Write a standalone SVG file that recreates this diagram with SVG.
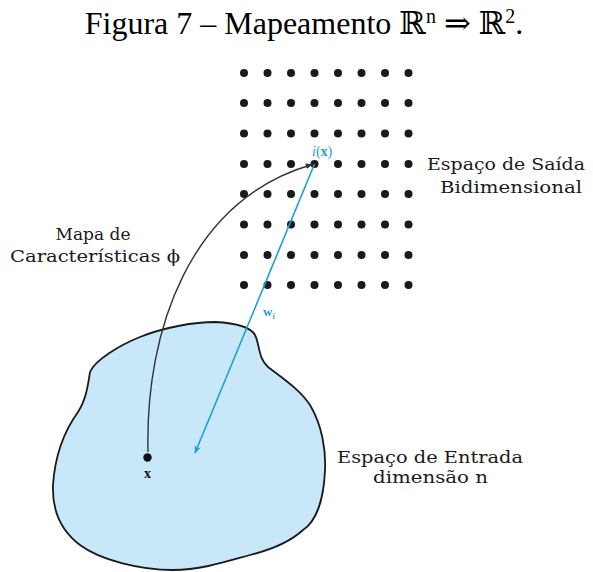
<svg xmlns="http://www.w3.org/2000/svg" width="593" height="572" viewBox="0 0 593 572">
<style>
.title{font-family:"Liberation Serif","DejaVu Serif",serif;font-size:32px;fill:#000}
.lbl{font-family:"DejaVu Serif",serif;font-size:17px;fill:#1a1a1a}
.dot{fill:#1a1a1a}
.blue{fill:#1a9fd9;font-family:"Liberation Serif","DejaVu Serif",serif}
</style>
<defs>
<marker id="ab" viewBox="0 0 10 10" refX="9" refY="5" markerWidth="7" markerHeight="7" orient="auto" markerUnits="userSpaceOnUse"><path d="M0,1 L10,5 L0,9 z" fill="#333"/></marker>
<marker id="ac" viewBox="0 0 10 10" refX="9" refY="5" markerWidth="8" markerHeight="8" orient="auto" markerUnits="userSpaceOnUse"><path d="M0,1 L10,5 L0,9 L3,5 z" fill="#1a9fd9"/></marker>
<g id="row">
<circle cx="244" cy="0" r="4"/><circle cx="267.5" cy="0" r="4"/><circle cx="291" cy="0" r="4"/><circle cx="314.5" cy="0" r="4"/><circle cx="338" cy="0" r="4"/><circle cx="361.5" cy="0" r="4"/><circle cx="385" cy="0" r="4"/><circle cx="408.5" cy="0" r="4"/>
</g>
</defs>
<rect width="593" height="572" fill="#fff"/>
<text class="title" x="304" y="34" text-anchor="middle">Figura 7 – Mapeamento ℝ<tspan font-size="20" dy="-11">n</tspan><tspan dy="11"> ⇒ ℝ</tspan><tspan font-size="20" dy="-11">2</tspan><tspan dy="11">.</tspan></text>
<g id="input-space">
<path d="M90,372 C95,360 120,345 140,337 C165,327 195,322 215,322 C235,323 250,326 255,335 C260,345 258,358 268,367 C285,380 300,390 310,405 C322,425 326,450 325,470 C324,495 318,520 303,530 C290,542 270,550 250,555 C225,562 200,570 173,570 C140,570 100,560 80,545 C60,530 52,510 53,485 C55,455 65,430 78,412 C86,400 88,385 90,372 Z" fill="#c8e8f9" stroke="#1a1a1a" stroke-width="1.8"/>
</g>
<g id="output-grid" class="dot">
<use href="#row" y="73"/><use href="#row" y="103"/><use href="#row" y="133.5"/><use href="#row" y="164"/><use href="#row" y="194"/><use href="#row" y="224.5"/><use href="#row" y="255"/><use href="#row" y="285"/>
</g>
<g id="connectors">
<path d="M148,452 C145,330 190,200 312,164.5" fill="none" stroke="#333" stroke-width="1.4" marker-end="url(#ab)"/>
<line x1="314.5" y1="164" x2="195" y2="453" stroke="#1a9fd9" stroke-width="1.6" marker-end="url(#ac)"/>
</g>
<g id="x-point">
<circle cx="147.5" cy="457.5" r="4.2" fill="#111"/>
<text x="147.5" y="478" text-anchor="middle" font-family="Liberation Serif,serif" font-weight="bold" font-size="14" fill="#111">x</text>
</g>
<g id="ix-label">
<text class="blue" x="312" y="156" font-size="14"><tspan font-style="italic">i</tspan>(<tspan font-weight="bold">x</tspan>)</text>
</g>
<g id="wi-label">
<text class="blue" x="263" y="316" font-size="13" font-weight="bold">w<tspan font-size="8" dy="3" font-style="italic">i</tspan></text>
</g>
<g id="label-map">
<text class="lbl" x="93" y="240" text-anchor="middle">Mapa de</text>
<text class="lbl" x="10" y="262" textLength="170" lengthAdjust="spacingAndGlyphs">Características ϕ</text>
</g>
<g id="label-output">
<text class="lbl" x="427" y="170" textLength="158" lengthAdjust="spacingAndGlyphs">Espaço de Saída</text>
<text class="lbl" x="440" y="193" textLength="142" lengthAdjust="spacingAndGlyphs">Bidimensional</text>
</g>
<g id="label-input">
<text class="lbl" x="337" y="463" textLength="186" lengthAdjust="spacingAndGlyphs">Espaço de Entrada</text>
<text class="lbl" x="373" y="483" textLength="115" lengthAdjust="spacingAndGlyphs">dimensão n</text>
</g>
</svg>
